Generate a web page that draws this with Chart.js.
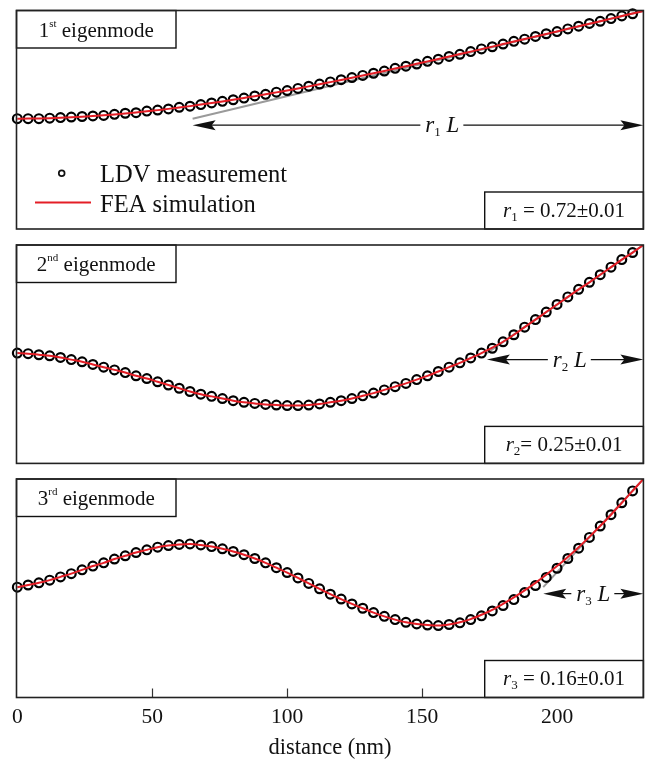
<!DOCTYPE html>
<html>
<head>
<meta charset="utf-8">
<title>Eigenmodes</title>
<script src="https://cdn.jsdelivr.net/npm/chart.js@4.4.1/dist/chart.umd.min.js"></script>
<style>
    body { margin: 0; background: #fff; }
    #wrap { position: relative; width: 650px; height: 761px; }
    #wrap canvas { position: absolute; left: 0; }
</style>
</head>
<body>
<div id="wrap">
    <canvas id="mode1" width="650" height="236" style="top:0px"></canvas>
    <canvas id="mode2" width="650" height="234" style="top:236px"></canvas>
    <canvas id="mode3" width="650" height="291" style="top:470px"></canvas>
</div>
<script>
// measurement positions along the beam (nm)
const distance = [0, 4, 8, 12, 16, 20, 24, 28, 32, 36, 40, 44, 48, 52, 56, 60, 64, 68, 72, 76,
    80, 84, 88, 92, 96, 100, 104, 108, 112, 116, 120, 124, 128, 132, 136, 140, 144, 148, 152, 156,
    160, 164, 168, 172, 176, 180, 184, 188, 192, 196, 200, 204, 208, 212, 216, 220, 224, 228];
const feaDistance = [0, 4, 8, 12, 16, 20, 24, 28, 32, 36, 40, 44, 48, 52, 56, 60, 64, 68, 72, 76,
    80, 84, 88, 92, 96, 100, 104, 108, 112, 116, 120, 124, 128, 132, 136, 140, 144, 148, 152, 156,
    160, 164, 168, 172, 176, 180, 184, 188, 192, 196, 200, 204, 208, 212, 216, 220, 224, 228, 232];

// normalised deflection
const ldvMode1 = [0.00, 0.00, 0.00, 0.01, 0.02, 0.03, 0.04, 0.05, 0.06, 0.08, 0.10, 0.11, 0.14, 0.16, 0.18, 0.21, 0.23, 0.26, 0.29, 0.32,
    0.35, 0.38, 0.42, 0.45, 0.49, 0.52, 0.56, 0.60, 0.64, 0.68, 0.72, 0.76, 0.80, 0.84, 0.88, 0.93, 0.97, 1.01, 1.06, 1.10,
    1.15, 1.19, 1.24, 1.29, 1.33, 1.38, 1.43, 1.47, 1.52, 1.57, 1.61, 1.66, 1.71, 1.76, 1.80, 1.85, 1.90, 1.94];
const feaMode1 = [0, 0.001, 0.004, 0.009, 0.016, 0.025, 0.036, 0.048, 0.062, 0.078, 0.096, 0.115, 0.135, 0.158, 0.181, 0.206, 0.232, 0.260, 0.289, 0.319,
    0.350, 0.383, 0.416, 0.450, 0.486, 0.522, 0.559, 0.597, 0.636, 0.676, 0.716, 0.757, 0.798, 0.840, 0.883, 0.926, 0.970, 1.014, 1.059, 1.104,
    1.149, 1.194, 1.240, 1.286, 1.332, 1.379, 1.426, 1.472, 1.519, 1.566, 1.613, 1.661, 1.708, 1.755, 1.802, 1.850, 1.897, 1.944, 1.991];

const ldvMode2 = [0.00, -0.01, -0.03, -0.05, -0.08, -0.12, -0.16, -0.21, -0.26, -0.31, -0.36, -0.42, -0.47, -0.53, -0.59, -0.65, -0.71, -0.76, -0.80, -0.84,
    -0.88, -0.91, -0.93, -0.95, -0.96, -0.97, -0.97, -0.96, -0.94, -0.91, -0.88, -0.84, -0.79, -0.74, -0.68, -0.62, -0.56, -0.49, -0.42, -0.34,
    -0.26, -0.18, -0.09, 0.00, 0.09, 0.21, 0.34, 0.48, 0.62, 0.76, 0.90, 1.04, 1.18, 1.31, 1.45, 1.59, 1.73, 1.86];
const feaMode2 = [0.00, -0.01, -0.03, -0.05, -0.08, -0.12, -0.16, -0.21, -0.26, -0.31, -0.36, -0.42, -0.47, -0.53, -0.59, -0.65, -0.71, -0.76, -0.80, -0.84,
    -0.88, -0.91, -0.93, -0.95, -0.96, -0.97, -0.97, -0.96, -0.94, -0.91, -0.88, -0.84, -0.79, -0.74, -0.68, -0.62, -0.56, -0.49, -0.42, -0.34,
    -0.26, -0.18, -0.09, 0.00, 0.10, 0.21, 0.34, 0.48, 0.62, 0.76, 0.90, 1.04, 1.18, 1.31, 1.45, 1.59, 1.73, 1.86, 2.00];

const ldvMode3 = [0.00, 0.04, 0.08, 0.13, 0.19, 0.25, 0.32, 0.39, 0.45, 0.52, 0.58, 0.64, 0.69, 0.74, 0.77, 0.79, 0.80, 0.78, 0.75, 0.71,
    0.66, 0.60, 0.53, 0.45, 0.36, 0.27, 0.17, 0.07, -0.03, -0.13, -0.22, -0.31, -0.39, -0.47, -0.54, -0.60, -0.65, -0.68, -0.70, -0.71,
    -0.69, -0.66, -0.60, -0.53, -0.44, -0.34, -0.23, -0.10, 0.03, 0.18, 0.35, 0.53, 0.72, 0.92, 1.13, 1.34, 1.56, 1.78];
const feaMode3 = [0.00, 0.04, 0.08, 0.13, 0.19, 0.25, 0.32, 0.39, 0.45, 0.52, 0.58, 0.64, 0.69, 0.74, 0.77, 0.79, 0.80, 0.78, 0.75, 0.71,
    0.66, 0.60, 0.53, 0.45, 0.36, 0.27, 0.17, 0.07, -0.03, -0.13, -0.22, -0.31, -0.39, -0.47, -0.54, -0.60, -0.65, -0.68, -0.70, -0.71,
    -0.69, -0.65, -0.59, -0.51, -0.42, -0.31, -0.19, -0.06, 0.08, 0.23, 0.39, 0.56, 0.74, 0.93, 1.13, 1.34, 1.56, 1.78, 2.00];

const modeNumbers = ['1', '2', '3'];
const modeSuffixes = ['st', 'nd', 'rd'];
const ratios = [0.72, 0.25, 0.16];
const ratioTexts = ['0.72\u00b10.01', '0.25\u00b10.01', '0.16\u00b10.01'];
const xTicks = [0, 50, 100, 150, 200];
const beamLength = 232;

const SERIF = '"Liberation Serif", "Times New Roman", serif';
const INK = '#111';
const RED = '#e41e26';

function richWidth(ctx, parts) {
    return parts.reduce((w, p) => {
        ctx.font = p.font;
        return w + ctx.measureText(p.text).width;
    }, 0);
}

function drawRich(ctx, parts, x, baseline) {
    let cx = x;
    parts.forEach(p => {
        ctx.font = p.font;
        ctx.fillText(p.text, cx, baseline + (p.dy || 0));
        cx += ctx.measureText(p.text).width;
    });
}

function arrowHead(ctx, tipX, y, dir) {
    ctx.beginPath();
    ctx.moveTo(tipX, y);
    ctx.lineTo(tipX + dir * 23, y - 5);
    ctx.lineTo(tipX + dir * 19, y);
    ctx.lineTo(tipX + dir * 23, y + 5);
    ctx.closePath();
    ctx.fill();
}

const decorPlugin = {
    id: 'decor',
    afterDatasetsDraw(chart, args, opts) {
        const { ctx, chartArea: a, scales: { x, y } } = chart;
        const i = opts.index;
        ctx.save();
        ctx.fillStyle = INK;
        ctx.strokeStyle = INK;
        ctx.textAlign = 'left';
        ctx.textBaseline = 'alphabetic';

        // inward tick marks on the bottom panel
        if (opts.ticks) {
            ctx.lineWidth = 1.2;
            ctx.strokeStyle = '#333';
            xTicks.slice(1).forEach(v => {
                const px = Math.round(x.getPixelForValue(v)) + 0.5;
                ctx.beginPath();
                ctx.moveTo(px, a.bottom);
                ctx.lineTo(px, a.bottom - 9);
                ctx.stroke();
            });
            ctx.strokeStyle = INK;
        }

        // r*L arrow
        const x0 = x.getPixelForValue(beamLength * (1 - ratios[i]));
        const x1 = a.right;
        const ay = y.getPixelForValue(0) + 6.5;
        const label = [
            { text: 'r', font: `italic 23px ${SERIF}` },
            { text: modeNumbers[i], font: `13px ${SERIF}`, dy: 4 },
            { text: ' L', font: `italic 23px ${SERIF}` }
        ];
        const lw = richWidth(ctx, label);
        const lc = x0 + (x1 - x0) * opts.labelPos;
        ctx.lineWidth = 1.3;
        ctx.beginPath();
        ctx.moveTo(x0 + 18, ay);
        ctx.lineTo(lc - lw / 2 - 5, ay);
        ctx.moveTo(lc + lw / 2 + 4, ay);
        ctx.lineTo(x1 - 18, ay);
        ctx.stroke();
        arrowHead(ctx, x0, ay, 1);
        arrowHead(ctx, x1, ay, -1);
        drawRich(ctx, label, lc - lw / 2, ay + 7);

        // title box
        const tw = 159.5, th = 37.5;
        ctx.fillStyle = '#fff';
        ctx.fillRect(a.left, a.top, tw, th);
        ctx.lineWidth = 1.4;
        ctx.strokeRect(a.left, a.top, tw, th);
        ctx.fillStyle = INK;
        const title = [
            { text: modeNumbers[i], font: `21px ${SERIF}` },
            { text: modeSuffixes[i], font: `11px ${SERIF}`, dy: -10 },
            { text: ' eigenmode', font: `21px ${SERIF}` }
        ];
        drawRich(ctx, title, a.left + (tw - richWidth(ctx, title)) / 2, a.top + 26);

        // ratio box
        const bw = 158.7, bh = 37;
        const bx = a.right - bw, by = a.bottom - bh;
        ctx.fillStyle = '#fff';
        ctx.fillRect(bx, by, bw, bh);
        ctx.strokeRect(bx, by, bw, bh);
        ctx.fillStyle = INK;
        const value = [
            { text: 'r', font: `italic 21px ${SERIF}` },
            { text: modeNumbers[i], font: `13px ${SERIF}`, dy: 4 },
            { text: opts.eq + ratioTexts[i], font: `21px ${SERIF}` }
        ];
        drawRich(ctx, value, bx + (bw - richWidth(ctx, value)) / 2, a.bottom - 12.5);

        // legend (first panel only)
        if (opts.legend) {
            ctx.lineWidth = 1.7;
            ctx.beginPath();
            ctx.arc(61.7, 173.3, 2.9, 0, Math.PI * 2);
            ctx.stroke();
            ctx.strokeStyle = RED;
            ctx.lineWidth = 1.8;
            ctx.beginPath();
            ctx.moveTo(35, 202.5);
            ctx.lineTo(91, 202.5);
            ctx.stroke();
            ctx.font = `24.5px ${SERIF}`;
            ctx.fillText('LDV measurement', 100, 181.5);
            ctx.fillText('FEA simulation', 100, 211.5);
        }

        // frame
        ctx.strokeStyle = '#222';
        ctx.lineWidth = 1.6;
        ctx.strokeRect(a.left, a.top, a.width, a.height);
        ctx.restore();
    }
};

function buildPanel(canvasId, index, ldv, fea, layout) {
    const points = (xs, ys) => ys.map((v, k) => ({ x: xs[k], y: v }));
    const tipY = fea[fea.length - 1];
    const xScale = {
        type: 'linear',
        min: -0.3,
        max: beamLength,
        display: layout.axis
    };
    if (layout.axis) {
        Object.assign(xScale, {
            afterBuildTicks: axis => { axis.ticks = xTicks.map(v => ({ value: v })); },
            grid: { display: false, drawTicks: false },
            border: { display: false },
            ticks: {
                color: INK,
                padding: 9,
                maxRotation: 0,
                autoSkip: false,
                font: { family: SERIF, size: 21.5, lineHeight: 1 }
            },
            title: {
                display: true,
                text: 'distance (nm)',
                color: INK,
                padding: { top: 0, bottom: 1.5 },
                font: { family: SERIF, size: 22.5, lineHeight: 1 }
            }
        });
    }

    return new Chart(document.getElementById(canvasId), {
        type: 'scatter',
        data: {
            datasets: [
                {
                    label: 'FEA simulation',
                    data: points(feaDistance, fea),
                    showLine: true,
                    borderColor: RED,
                    borderWidth: 2,
                    pointRadius: 0,
                    cubicInterpolationMode: 'monotone',
                    order: 0
                },
                {
                    label: 'LDV measurement',
                    data: points(distance, ldv),
                    pointRadius: 4.4,
                    pointBorderWidth: 2.2,
                    borderColor: '#000',
                    backgroundColor: 'rgba(0,0,0,0)',
                    clip: false,
                    order: 1
                },
                {
                    label: 'tangent',
                    data: [{ x: beamLength * (1 - ratios[index]), y: 0 }, { x: beamLength, y: tipY }],
                    showLine: true,
                    borderColor: '#9a9a9a',
                    borderWidth: 2,
                    pointRadius: 0,
                    order: 2
                }
            ]
        },
        options: {
            responsive: false,
            animation: false,
            devicePixelRatio: 1,
            events: [],
            layout: { padding: { left: 16.5, right: 4, top: layout.top, bottom: layout.bottom } },
            scales: {
                x: xScale,
                y: { type: 'linear', min: -2.04, max: 2.0, display: false }
            },
            plugins: {
                legend: { display: false },
                tooltip: { enabled: false },
                decor: {
                    index: index,
                    labelPos: layout.labelPos,
                    eq: layout.eq,
                    legend: index === 0,
                    ticks: layout.axis
                }
            }
        },
        plugins: [decorPlugin]
    });
}

document.addEventListener('DOMContentLoaded', () => {
    buildPanel('mode1', 0, ldvMode1, feaMode1, { top: 10.5, bottom: 7, axis: false, labelPos: 0.554, eq: ' = ' });
    buildPanel('mode2', 1, ldvMode2, feaMode2, { top: 9, bottom: 6.5, axis: false, labelPos: 0.53, eq: '= ' });
    buildPanel('mode3', 2, ldvMode3, feaMode3, { top: 9, bottom: 0, axis: true, labelPos: 0.5, eq: ' = ' });
});
</script>
</body>
</html>
